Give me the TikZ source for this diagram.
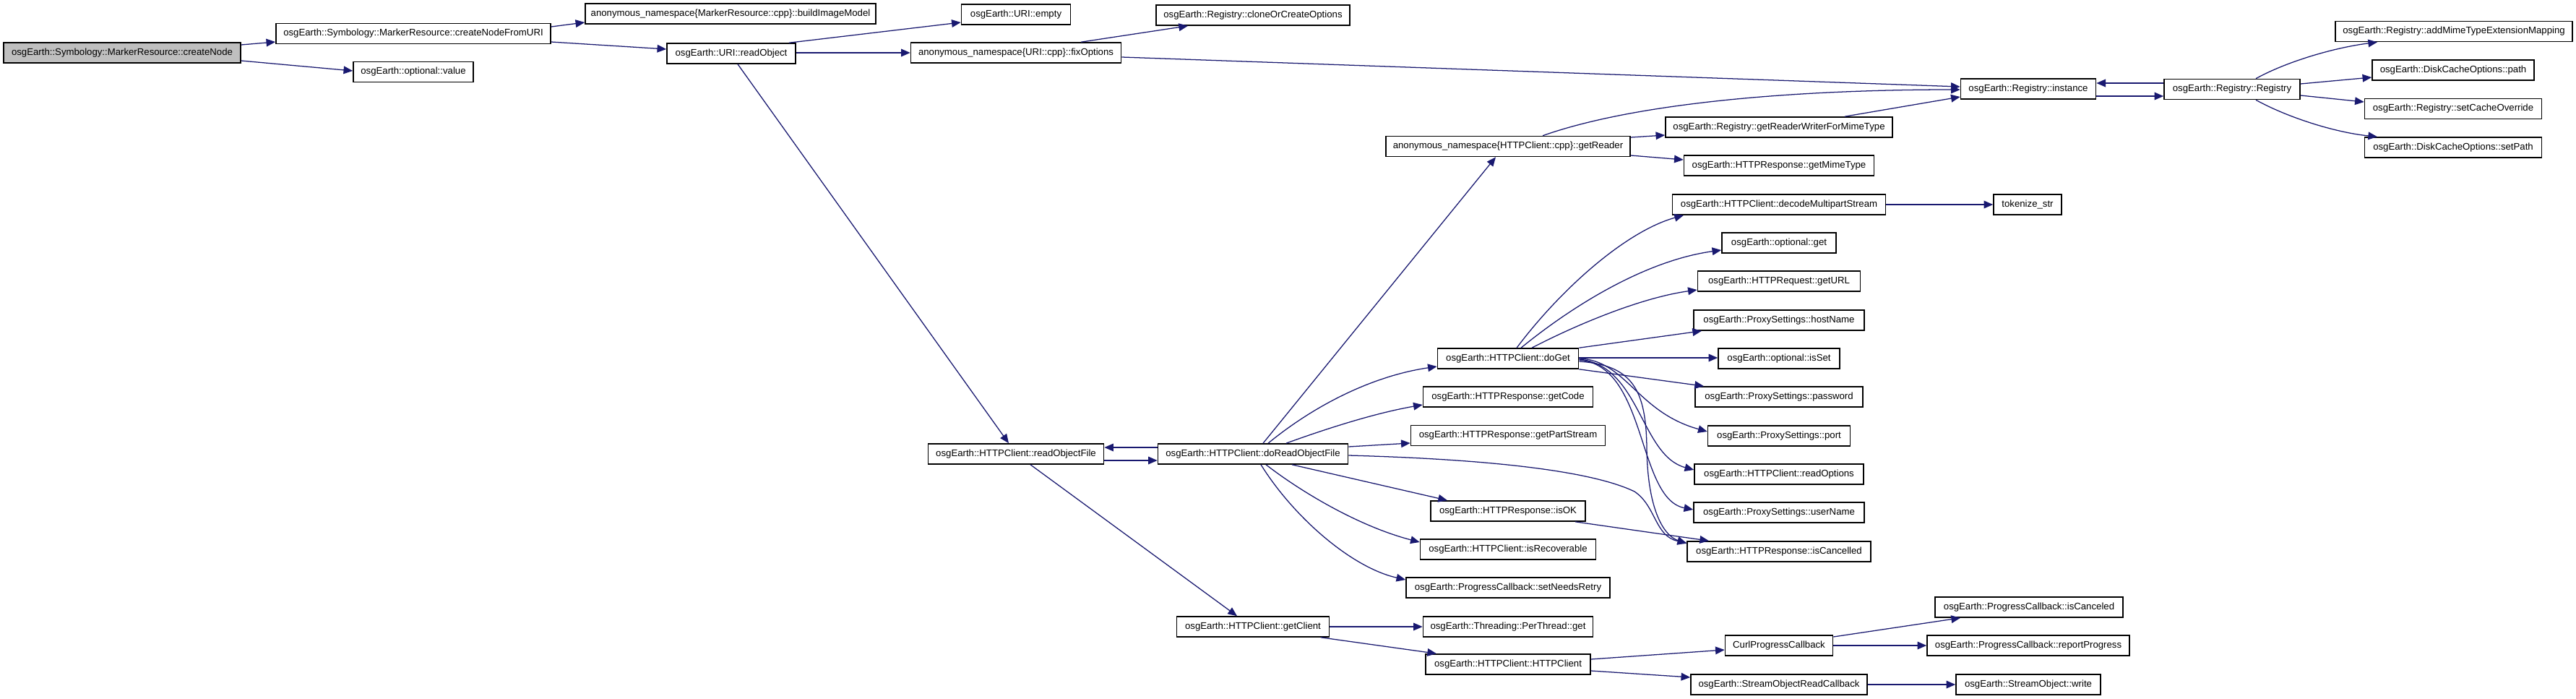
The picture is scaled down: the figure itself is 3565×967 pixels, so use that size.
\documentclass[tikz,border=0pt]{standalone}
\usepackage{fontspec}
\setmainfont{Liberation Sans}
\usetikzlibrary{arrows.meta}
\definecolor{edgecol}{HTML}{191970}
\definecolor{rootfill}{HTML}{BFBFBF}
\begin{document}
\begin{tikzpicture}[x=0.75pt,y=-0.75pt,
  box/.style={draw=black,line width=1.2pt,fill=white,inner sep=0pt,minimum height=21pt,font=\fontsize{9.9pt}{11pt}\selectfont,anchor=center},
  w/.style={minimum width=#1*0.75pt},
  edge/.style={draw=edgecol,line width=0.95pt,-{Triangle[length=9.5pt,width=8pt]},fill=none}]
\useasboundingbox[fill=white] (0,0) rectangle (3565,967);
% nodes
\node[box,w=328,fill=rootfill] (cn) at (169,73) {osgEarth::Symbology::MarkerResource::createNode};
\node[box,w=380] (cnf) at (572,46.5) {osgEarth::Symbology::MarkerResource::createNodeFromURI};
\node[box,w=166] (val) at (572,99.5) {osgEarth::optional::value};
\node[box,w=402] (bim) at (1011,19) {anonymous\_namespace\{MarkerResource::cpp\}::buildImageModel};
\node[box,w=178] (ro) at (1012,74) {osgEarth::URI::readObject};
\node[box,w=151] (ue) at (1406,20) {osgEarth::URI::empty};
\node[box,w=291] (fo) at (1406,73) {anonymous\_namespace\{URI::cpp\}::fixOptions};
\node[box,w=243] (rof) at (1406,628) {osgEarth::HTTPClient::readObjectFile};
\node[box,w=268] (coc) at (1734,21) {osgEarth::Registry::cloneOrCreateOptions};
\node[box,w=263] (dro) at (1734,628) {osgEarth::HTTPClient::doReadObjectFile};
\node[box,w=211] (gc) at (1734,867) {osgEarth::HTTPClient::getClient};
\node[box,w=338] (gr) at (2087,202.5) {anonymous\_namespace\{HTTPClient::cpp\}::getReader};
\node[box,w=195] (dg) at (2087,496) {osgEarth::HTTPClient::doGet};
\node[box,w=235] (gcode) at (2087,549) {osgEarth::HTTPResponse::getCode};
\node[box,w=269] (gps) at (2087,602.5) {osgEarth::HTTPResponse::getPartStream};
\node[box,w=214] (isok) at (2087,707) {osgEarth::HTTPResponse::isOK};
\node[box,w=243] (irec) at (2087,760) {osgEarth::HTTPClient::isRecoverable};
\node[box,w=282] (snr) at (2087,813) {osgEarth::ProgressCallback::setNeedsRetry};
\node[box,w=235] (ptg) at (2087,867) {osgEarth::Threading::PerThread::get};
\node[box,w=228] (hc) at (2087,919) {osgEarth::HTTPClient::HTTPClient};
\node[box,w=314] (grw) at (2462,176) {osgEarth::Registry::getReaderWriterForMimeType};
\node[box,w=263] (gmt) at (2462,229) {osgEarth::HTTPResponse::getMimeType};
\node[box,w=295] (dms) at (2462,283) {osgEarth::HTTPClient::decodeMultipartStream};
\node[box,w=158] (og) at (2462,336) {osgEarth::optional::get};
\node[box,w=225] (gurl) at (2462,389) {osgEarth::HTTPRequest::getURL};
\node[box,w=236] (hn) at (2462,443) {osgEarth::ProxySettings::hostName};
\node[box,w=168] (iss) at (2462,496) {osgEarth::optional::isSet};
\node[box,w=232] (pw) at (2462,549) {osgEarth::ProxySettings::password};
\node[box,w=197] (port) at (2462,603) {osgEarth::ProxySettings::port};
\node[box,w=234] (rop) at (2462,656) {osgEarth::HTTPClient::readOptions};
\node[box,w=236] (un) at (2462,709) {osgEarth::ProxySettings::userName};
\node[box,w=254] (ic) at (2462,763) {osgEarth::HTTPResponse::isCancelled};
\node[box,w=149] (cpc) at (2462,893) {CurlProgressCallback};
\node[box,w=244] (sorc) at (2462,947) {osgEarth::StreamObjectReadCallback};
\node[box,w=187] (ri) at (2807,123) {osgEarth::Registry::instance};
\node[box,w=94] (ts) at (2806,283) {tokenize\_str};
\node[box,w=260] (pci) at (2808,840) {osgEarth::ProgressCallback::isCanceled};
\node[box,w=280] (rp) at (2807,893) {osgEarth::ProgressCallback::reportProgress};
\node[box,w=200] (wr) at (2807,947) {osgEarth::StreamObject::write};
\node[box,w=188] (reg) at (3089,123.5) {osgEarth::Registry::Registry};
\node[box,w=328] (amt) at (3396,43.5) {osgEarth::Registry::addMimeTypeExtensionMapping};
\node[box,w=224] (dcp) at (3395,97) {osgEarth::DiskCacheOptions::path};
\node[box,w=245] (sco) at (3395,150.5) {osgEarth::Registry::setCacheOverride};
\node[box,w=245] (sp) at (3395,204) {osgEarth::DiskCacheOptions::setPath};
% edges
\draw[edge] (cn.east |- 0,62) -- (cnf.west |- 0,58);
\draw[edge] (cn.east |- 0,84) -- (val.west |- 0,98);
\draw[edge] (cnf.east |- 0,37) -- (bim.west |- 0,31);
\draw[edge] (cnf.east |- 0,58) -- (ro.west |- 0,68);
\draw[edge] (ro.north -| 1092,0) -- (ue.west |- 0,31);
\draw[edge] (ro.east |- 0,73) -- (fo.west |- 0,73);
\draw[edge] (ro.south -| 1021,0) -- (rof.north -| 1396,0);
\draw[edge] (fo.north -| 1496,0) -- (coc.south -| 1644,0);
\draw[edge] (fo.east |- 0,79) -- (ri.west |- 0,120);
\draw[edge] (rof.east |- 0,637) -- (dro.west |- 0,637);
\draw[edge] (dro.west |- 0,619) -- (rof.east |- 0,619);
\draw[edge] (rof.south -| 1426,0) -- (gc.north -| 1712,0);
\draw[edge] (dro.north -| 1748,0) -- (gr.south -| 2070,0);
\draw[edge] (dro.north -| 1755,0) .. controls (1820,560) and (1900,520) .. (dg.west |- 0,507);
\draw[edge] (dro.north -| 1780,0) .. controls (1830,595) and (1900,572) .. (gcode.west |- 0,560);
\draw[edge] (dro.east |- 0,618) -- (gps.west |- 0,613);
\draw[edge] (dro.east |- 0,630) .. controls (2050,635) and (2200,650) .. (2262,680) .. controls (2292,700) and (2290,742) .. (ic.west |- 0,751);
\draw[edge] (dro.south -| 1788,0) -- (isok.north -| 2003,0);
\draw[edge] (dro.south -| 1752,0) .. controls (1800,680) and (1880,728) .. (irec.west |- 0,750);
\draw[edge] (dro.south -| 1745,0) .. controls (1790,715) and (1870,785) .. (snr.west |- 0,802);
\draw[edge] (gr.north -| 2135,0) .. controls (2270,140) and (2500,124) .. (ri.west |- 0,124);
\draw[edge] (gr.east |- 0,190) -- (grw.west |- 0,187);
\draw[edge] (gr.east |- 0,215) -- (gmt.west |- 0,221);
\draw[edge] (grw.north -| 2553,0) -- (ri.west |- 0,134);
\draw[edge] (ri.east |- 0,133) -- (reg.west |- 0,133);
\draw[edge] (reg.west |- 0,115) -- (ri.east |- 0,115);
\draw[edge] (reg.north -| 3122,0) .. controls (3165,85) and (3230,66) .. (amt.south -| 3290,0);
\draw[edge] (reg.east |- 0,116) -- (dcp.west |- 0,107);
\draw[edge] (reg.east |- 0,132) -- (sco.west |- 0,141);
\draw[edge] (reg.south -| 3122,0) .. controls (3165,162) and (3230,183) .. (sp.north -| 3290,0);
\draw[edge] (dg.north -| 2099,0) .. controls (2160,400) and (2250,320) .. (dms.south -| 2330,0);
\draw[edge] (dg.north -| 2105,0) .. controls (2180,420) and (2280,360) .. (og.west |- 0,346);
\draw[edge] (dg.north -| 2120,0) .. controls (2180,450) and (2270,412) .. (gurl.west |- 0,401);
\draw[edge] (dg.north east) -- (hn.south -| 2355,0);
\draw[edge] (dg.east |- 0,495) -- (iss.west |- 0,495);
\draw[edge] (dg.south east) -- (pw.north -| 2358,0);
\draw[edge] (dg.east |- 0,496) .. controls (2250,498) and (2265,570) .. (port.west |- 0,597);
\draw[edge] (dg.east |- 0,497) .. controls (2270,505) and (2270,630) .. (rop.west |- 0,650);
\draw[edge] (dg.east |- 0,498) .. controls (2280,505) and (2265,690) .. (un.west |- 0,705);
\draw[edge] (dg.east |- 0,500) .. controls (2260,505) and (2278,540) .. (2279,620) .. controls (2280,700) and (2300,740) .. (ic.west |- 0,752);
\draw[edge] (dms.east |- 0,283) -- (ts.west |- 0,283);
\draw[edge] (isok.south -| 2180,0) -- (ic.north -| 2365,0);
\draw[edge] (gc.east |- 0,867) -- (ptg.west |- 0,867);
\draw[edge] (gc.south -| 1828,0) -- (hc.north -| 1988,0);
\draw[edge] (hc.east |- 0,912) -- (cpc.west |- 0,899);
\draw[edge] (hc.east |- 0,928) -- (sorc.west |- 0,937);
\draw[edge] (cpc.east |- 0,881) -- (pci.south -| 2713,0);
\draw[edge] (cpc.east |- 0,893) -- (rp.west |- 0,893);
\draw[edge] (sorc.east |- 0,947) -- (wr.west |- 0,947);
\end{tikzpicture}
\end{document}
